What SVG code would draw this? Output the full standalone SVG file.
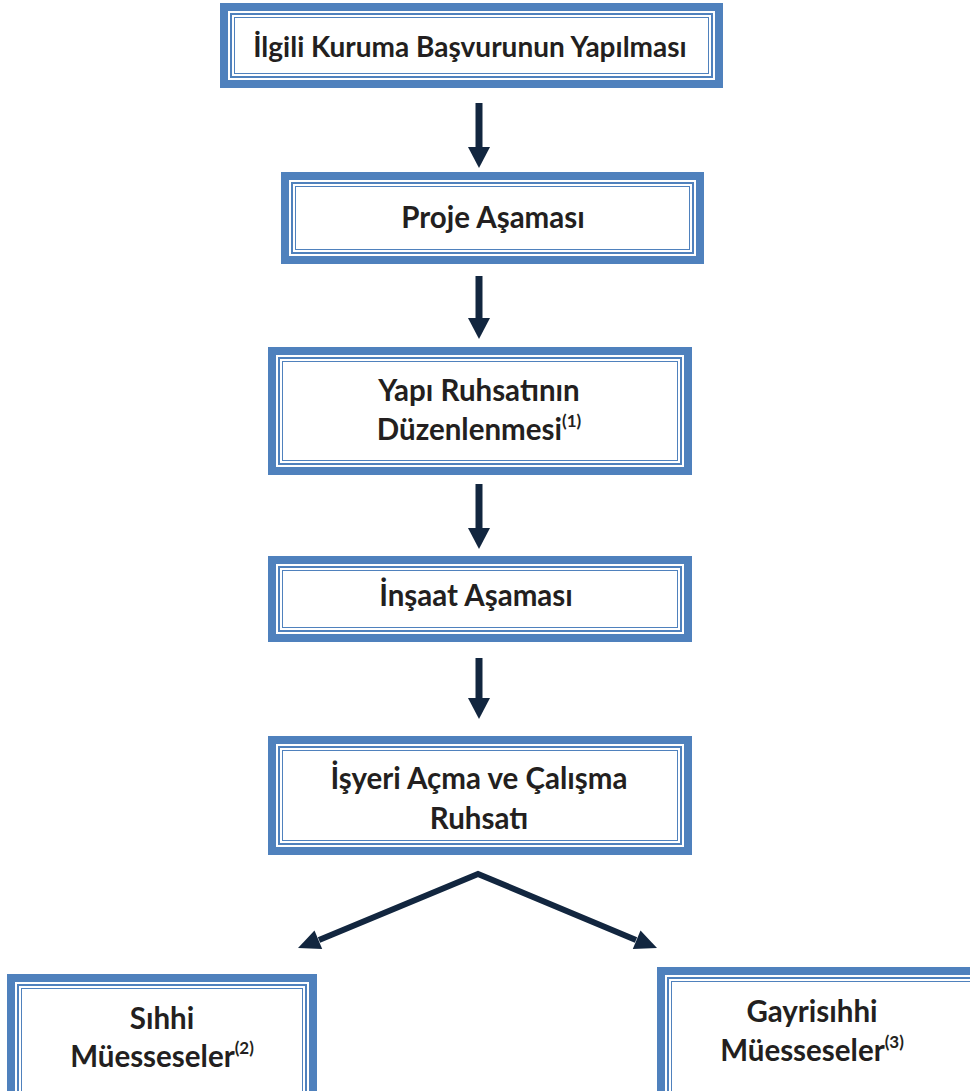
<svg xmlns="http://www.w3.org/2000/svg" width="970" height="1091" viewBox="0 0 970 1091">
<style>
.outer{fill:#fff;stroke:#4f81bd;stroke-width:8}
.in1{fill:none;stroke:#4f81bd;stroke-width:2}
.in2{fill:none;stroke:#4f81bd;stroke-width:1}
.t{font-family:Lato,"Open Sans",sans-serif;font-weight:bold;font-size:29.5px;fill:#231f20;text-anchor:middle}
.t1{font-size:28px}
.sup{font-size:17px}
</style>
<rect width="970" height="1091" fill="#fff"/>
<g id="connectors">
<g stroke="#12263f" stroke-width="7" fill="none">
<line x1="479" y1="103" x2="479" y2="149"/>
<line x1="479" y1="276" x2="479" y2="320"/>
<line x1="479" y1="484" x2="479" y2="530"/>
<line x1="479" y1="658" x2="479" y2="700"/>
</g>
<g fill="#12263f">
<path d="M468,147 L490,147 L479,168 Z"/>
<path d="M468,318 L490,318 L479,339 Z"/>
<path d="M468,528 L490,528 L479,549 Z"/>
<path d="M468,698 L490,698 L479,719 Z"/>
<path d="M298,948 L322.2,948.9 L314.5,930.4 Z"/>
<path d="M657,948 L632.8,948.9 L640.5,930.4 Z"/>
</g>
<polyline points="319,940 478,874 636,940" fill="none" stroke="#12263f" stroke-width="6" stroke-linejoin="miter"/>
</g>
<g id="n1">
<rect class="outer" x="224" y="7" width="495" height="77"/>
<rect class="in1" x="231" y="14" width="481" height="63"/>
<rect class="in2" x="234.5" y="17.5" width="474" height="56"/>
<text class="t t1" x="470" y="57">İlgili Kuruma Başvurunun Yapılması</text>
</g>
<g id="n2">
<rect class="outer" x="285" y="176" width="415" height="84"/>
<rect class="in1" x="292" y="183" width="401" height="70"/>
<rect class="in2" x="295.5" y="186.5" width="394" height="63"/>
<text class="t" x="493" y="228">Proje Aşaması</text>
</g>
<g id="n3">
<rect class="outer" x="272" y="351" width="416" height="120"/>
<rect class="in1" x="279" y="358" width="402" height="106"/>
<rect class="in2" x="282.5" y="361.5" width="395" height="99"/>
<text class="t" x="479" y="401">Yapı Ruhsatının</text>
<text class="t" x="479" y="440">Düzenlenmesi<tspan class="sup" dy="-13">(1)</tspan></text>
</g>
<g id="n4">
<rect class="outer" x="272" y="560" width="416" height="78"/>
<rect class="in1" x="279" y="567" width="402" height="64"/>
<rect class="in2" x="282.5" y="570.5" width="395" height="57"/>
<text class="t" x="476" y="606">İnşaat Aşaması</text>
</g>
<g id="n5">
<rect class="outer" x="272" y="740" width="416" height="111"/>
<rect class="in1" x="279" y="747" width="402" height="97"/>
<rect class="in2" x="282.5" y="750.5" width="395" height="90"/>
<text class="t" x="479" y="789">İşyeri Açma ve Çalışma</text>
<text class="t" x="479" y="829">Ruhsatı</text>
</g>
<g id="n6">
<rect class="outer" x="11" y="978" width="302" height="130"/>
<rect class="in1" x="18" y="985" width="288" height="116"/>
<rect class="in2" x="21.5" y="988.5" width="281" height="109"/>
<text class="t" x="162" y="1029">Sıhhi</text>
<text class="t" x="162" y="1067">Müesseseler<tspan class="sup" dy="-13">(2)</tspan></text>
</g>
<g id="n7">
<rect class="outer" x="661" y="971" width="330" height="137"/>
<rect class="in1" x="668" y="978" width="316" height="123"/>
<rect class="in2" x="671.5" y="981.5" width="309" height="116"/>
<text class="t" x="812" y="1022">Gayrisıhhi</text>
<text class="t" x="812" y="1061">Müesseseler<tspan class="sup" dy="-13">(3)</tspan></text>
</g>
</svg>
